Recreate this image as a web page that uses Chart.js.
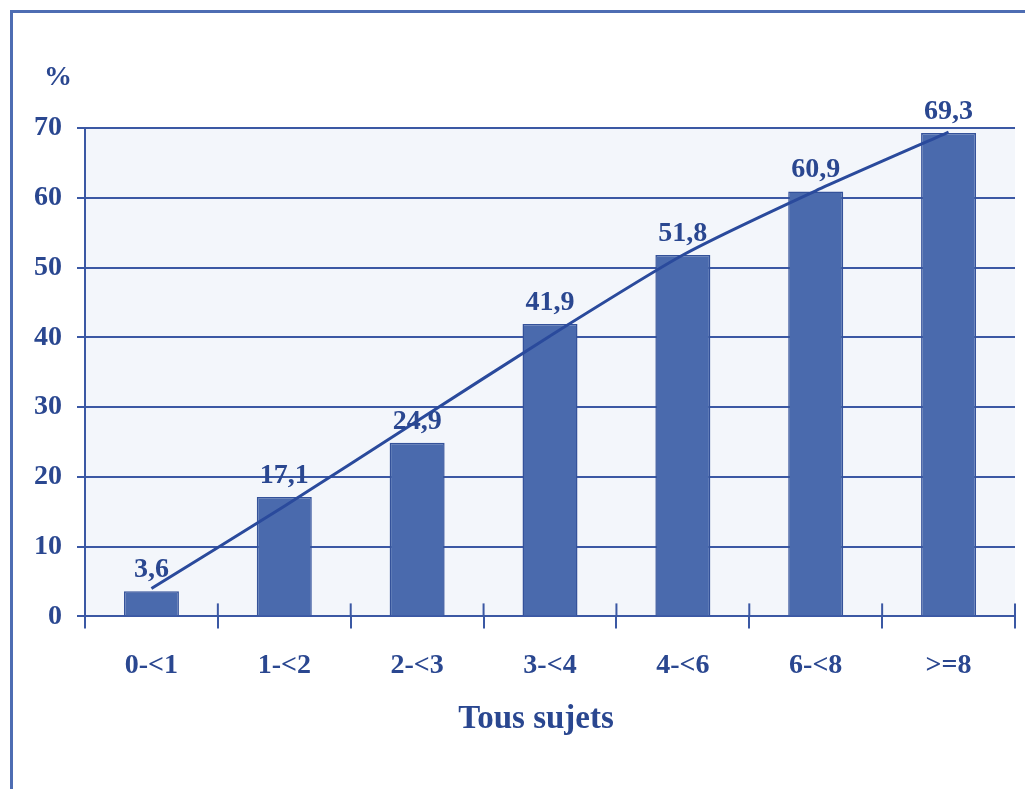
<!DOCTYPE html>
<html>
<head>
<meta charset="utf-8">
<script src="https://cdn.jsdelivr.net/npm/chart.js@4.4.1/dist/chart.umd.min.js"></script>
<style>
  html, body { margin: 0; padding: 0; background: #ffffff; }
  #wrap { position: relative; width: 1025px; height: 789px; overflow: hidden; }
  #frame { position: absolute; left: 10px; top: 10px; right: -10px; bottom: -10px;
           border-top: 3px solid #4e6db3; border-left: 3px solid #4e6db3; }
  canvas { position: absolute; left: 0; top: 0; }
</style>
</head>
<body>
<div id="wrap">
  <div id="frame"></div>
  <canvas id="chart" width="1025" height="789"></canvas>
</div>
<script>
// Age groups (years) and share of subjects (%)
const categories = ['0-<1', '1-<2', '2-<3', '3-<4', '4-<6', '6-<8', '>=8'];
const percentValues = [3.6, 17.1, 24.9, 41.9, 51.8, 60.9, 69.3];
// Fitted trend curve through the groups
const trendValues = [4.0, 15.8, 28.0, 40.2, 51.8, 61.0, 69.4];
const yTicks = [0, 10, 20, 30, 40, 50, 60, 70];

const BLUE_TEXT = '#2a4790';
const BLUE_LINE = '#3b58a4';
const BAR_FILL = '#4a6aad';
const SERIF = '"Liberation Serif", "DejaVu Serif", serif';

// Light panel behind the plot area
const panelBg = {
  id: 'panelBg',
  beforeDraw(chart) {
    const { ctx, chartArea: a } = chart;
    ctx.save();
    ctx.fillStyle = '#f3f6fb';
    ctx.fillRect(a.left, a.top, a.right - a.left, a.bottom - a.top);
    ctx.restore();
  }
};

// Value labels above bars, short upward stubs on the category boundaries,
// the "%" unit and the axis caption
const decorations = {
  id: 'decorations',
  afterDraw(chart) {
    const { ctx, chartArea: a } = chart;
    const xs = chart.scales.x;
    ctx.save();

    // boundary stubs above the x axis
    ctx.strokeStyle = BLUE_LINE;
    ctx.lineWidth = 2;
    const n = categories.length;
    const step = xs.getPixelForValue(1) - xs.getPixelForValue(0);
    for (let i = 0; i <= n; i++) {
      const x = i < n ? xs.getPixelForValue(i) - step / 2 : xs.getPixelForValue(n - 1) + step / 2;
      ctx.beginPath();
      ctx.moveTo(x, a.bottom - 13);
      ctx.lineTo(x, a.bottom);
      ctx.stroke();
    }

    // value labels
    const meta = chart.getDatasetMeta(1);
    ctx.fillStyle = BLUE_TEXT;
    ctx.font = 'bold 28px ' + SERIF;
    ctx.textAlign = 'center';
    ctx.textBaseline = 'alphabetic';
    meta.data.forEach((bar, i) => {
      const txt = percentValues[i].toFixed(1).replace('.', ',');
      ctx.fillText(txt, bar.x, bar.y - 14);
    });

    // unit
    ctx.font = 'bold 28px ' + SERIF;
    ctx.fillText('%', a.left - 27, a.top - 43);

    // caption
    ctx.font = 'bold 33px ' + SERIF;
    ctx.fillText('Tous sujets', (a.left + a.right) / 2 - 14, a.bottom + 112);

    ctx.restore();
  }
};

new Chart(document.getElementById('chart'), {
  data: {
    labels: categories,
    datasets: [
      {
        type: 'line',
        data: trendValues,
        borderColor: '#2a4a9c',
        borderWidth: 3,
        pointRadius: 0,
        tension: 0.2,
        fill: false,
        order: 0
      },
      {
        type: 'bar',
        data: percentValues,
        backgroundColor: BAR_FILL,
        borderColor: '#34529a',
        borderWidth: 1.5,
        categoryPercentage: 1,
        barPercentage: 0.414,
        order: 1
      }
    ]
  },
  options: {
    responsive: false,
    animation: false,
    events: [],
    layout: { padding: { left: 19, right: 10, top: 128, bottom: 85 } },
    plugins: { legend: { display: false }, tooltip: { enabled: false } },
    scales: {
      x: {
        offset: true,
        grid: {
          offset: true,
          drawOnChartArea: false,
          drawTicks: true,
          tickLength: 12,
          color: BLUE_LINE,
          lineWidth: 2
        },
        border: { display: true, color: BLUE_LINE, width: 2 },
        ticks: {
          color: BLUE_TEXT,
          padding: 21,
          font: { family: SERIF, size: 28, weight: 'bold' }
        }
      },
      y: {
        min: 0,
        max: 70,
        afterBuildTicks(scale) { scale.ticks = yTicks.map(v => ({ value: v })); },
        grid: {
          color: BLUE_LINE,
          lineWidth: 2,
          tickLength: 8
        },
        border: { display: true, color: BLUE_LINE, width: 2 },
        ticks: {
          color: BLUE_TEXT,
          padding: 15,
          font: { family: SERIF, size: 28, weight: 'bold' }
        }
      }
    }
  },
  plugins: [panelBg, decorations]
});
</script>
</body>
</html>
